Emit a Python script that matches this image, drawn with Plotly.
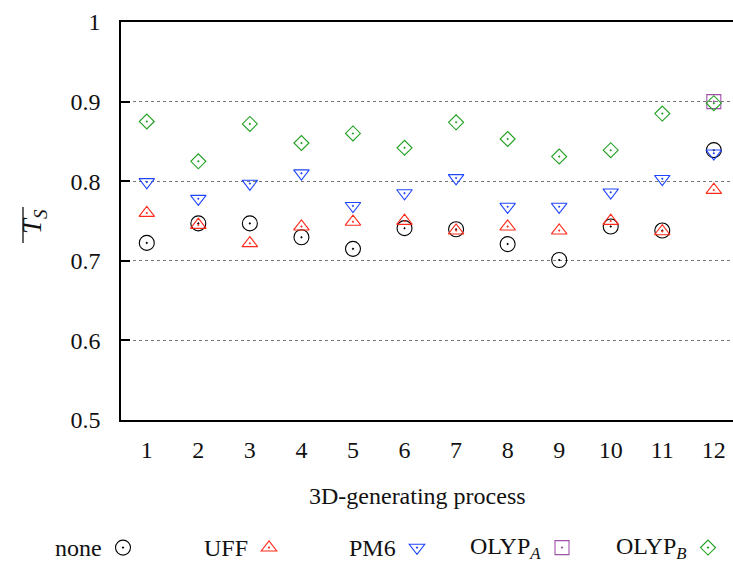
import plotly.graph_objects as go

processes = list(range(1, 13))
tick_labels = [str(p) for p in processes]

none_vals = [0.7225, 0.747, 0.747, 0.7296, 0.715, 0.741, 0.7396, 0.721, 0.701, 0.743, 0.738, 0.839]
uff_vals = [0.760, 0.745, 0.722, 0.743, 0.749, 0.750, 0.738, 0.743, 0.738, 0.750, 0.737, 0.789]
pm6_vals = [0.799, 0.778, 0.797, 0.810, 0.769, 0.785, 0.804, 0.768, 0.768, 0.786, 0.803, 0.835]
olypa_x = [12]
olypa_vals = [0.900]
olypb_vals = [0.875, 0.825, 0.872, 0.848, 0.860, 0.842, 0.874, 0.853, 0.831, 0.839, 0.885, 0.898]

series_names = ["none", "UFF", "PM6", "OLYP<sub><i>A</i></sub>", "OLYP<sub><i>B</i></sub>"]
FONT = "Liberation Serif"
FS = 24

W, H = 733, 562
L, R, T, B = 121, 0, 22, 142
pw, ph = W - L - R, H - T - B

styles = [
    ("circle-open-dot", "#000000", 15),
    ("triangle-up-open-dot", "#ff2a1a", 13.5),
    ("triangle-down-open-dot", "#1f45ff", 13.5),
    ("square-open-dot", "#a050a8", 14),
    ("diamond-open-dot", "#20a020", 11.5),
]
data = [
    (processes, none_vals),
    (processes, uff_vals),
    (processes, pm6_vals),
    (olypa_x, olypa_vals),
    (processes, olypb_vals),
]
legend_ids = ["legend", "legend2", "legend3", "legend4", "legend5"]

fig = go.Figure()
for (xs, ys), (sym, col, sz), lid in zip(data, styles, legend_ids):
    fig.add_trace(go.Scatter(
        x=xs, y=ys, mode="markers", name="", legend=lid,
        marker=dict(symbol=sym, color=col, size=sz, line=dict(color=col, width=1.1)),
        showlegend=True, cliponaxis=False,
    ))

key_x = [123, 269, 417, 562, 708]
key_y = 548
legend_layout = {}
for lid, kx in zip(legend_ids, key_x):
    legend_layout[lid] = dict(
        xref="container", yref="container",
        x=(kx - 20) / W, xanchor="left", y=1 - key_y / H, yanchor="middle",
        font=dict(family=FONT, size=FS), bgcolor="rgba(0,0,0,0)",
        borderwidth=0, itemclick=False, itemdoubleclick=False,
    )

# legend labels (text sits left of the key symbol, as in reference)
for nm, kx in zip(series_names, key_x):
    fig.add_annotation(
        x=(kx - 19 - L) / pw, y=(H - B - key_y) / ph, xref="paper", yref="paper",
        text=nm, showarrow=False, xanchor="right", yanchor="middle",
        font=dict(family=FONT, size=FS, color="#111"),
    )

# x axis title
fig.add_annotation(
    x=(417 - L) / pw, y=(H - B - 496) / ph, xref="paper", yref="paper",
    text="3D-generating process", showarrow=False, xanchor="center", yanchor="middle",
    font=dict(family=FONT, size=FS, color="#111"),
)

# y axis title (rotated), with overline drawn as a shape
fig.add_annotation(
    x=(34 - L) / pw, y=(H - B - 222) / ph, xref="paper", yref="paper",
    text="<i>T</i><sub><i>S</i></sub>", textangle=-90, showarrow=False,
    xanchor="center", yanchor="middle", font=dict(family=FONT, size=27, color="#111"),
)
fig.add_shape(type="line", xref="paper", yref="paper",
              x0=(23 - L) / pw, x1=(23 - L) / pw,
              y0=(H - B - 243) / ph, y1=(H - B - 207) / ph,
              line=dict(color="#111", width=1.3))

fig.update_layout(
    width=W, height=H,
    margin=dict(l=L, r=R, t=T, b=B, autoexpand=False),
    paper_bgcolor="white", plot_bgcolor="white",
    font=dict(family=FONT, size=FS, color="#111"),
    showlegend=True,
    **legend_layout,
    xaxis=dict(
        range=[0.5, 0.5 + pw / 51.55], tickvals=processes, ticktext=tick_labels,
        showgrid=False, zeroline=False, showline=True, linecolor="#000", linewidth=1.5,
        mirror=True, ticks="", ticklabelstandoff=7, automargin=False,
    ),
    yaxis=dict(
        range=[0.5, 1.0], tickvals=[0.5, 0.6, 0.7, 0.8, 0.9, 1.0],
        ticktext=["0.5", "0.6", "0.7", "0.8", "0.9", "1"],
        showgrid=True, gridcolor="#777", griddash="dot", gridwidth=1,
        zeroline=False, showline=True, linecolor="#000", linewidth=1.5, mirror=False,
        ticks="inside", ticklen=9, tickcolor="#000", tickwidth=1.5, ticklabelstandoff=14,
        automargin=False,
    ),
)

fig.write_html("out.html", config={"displayModeBar": False},
               post_script="document.body.style.margin='0';document.body.style.overflow='hidden';")
